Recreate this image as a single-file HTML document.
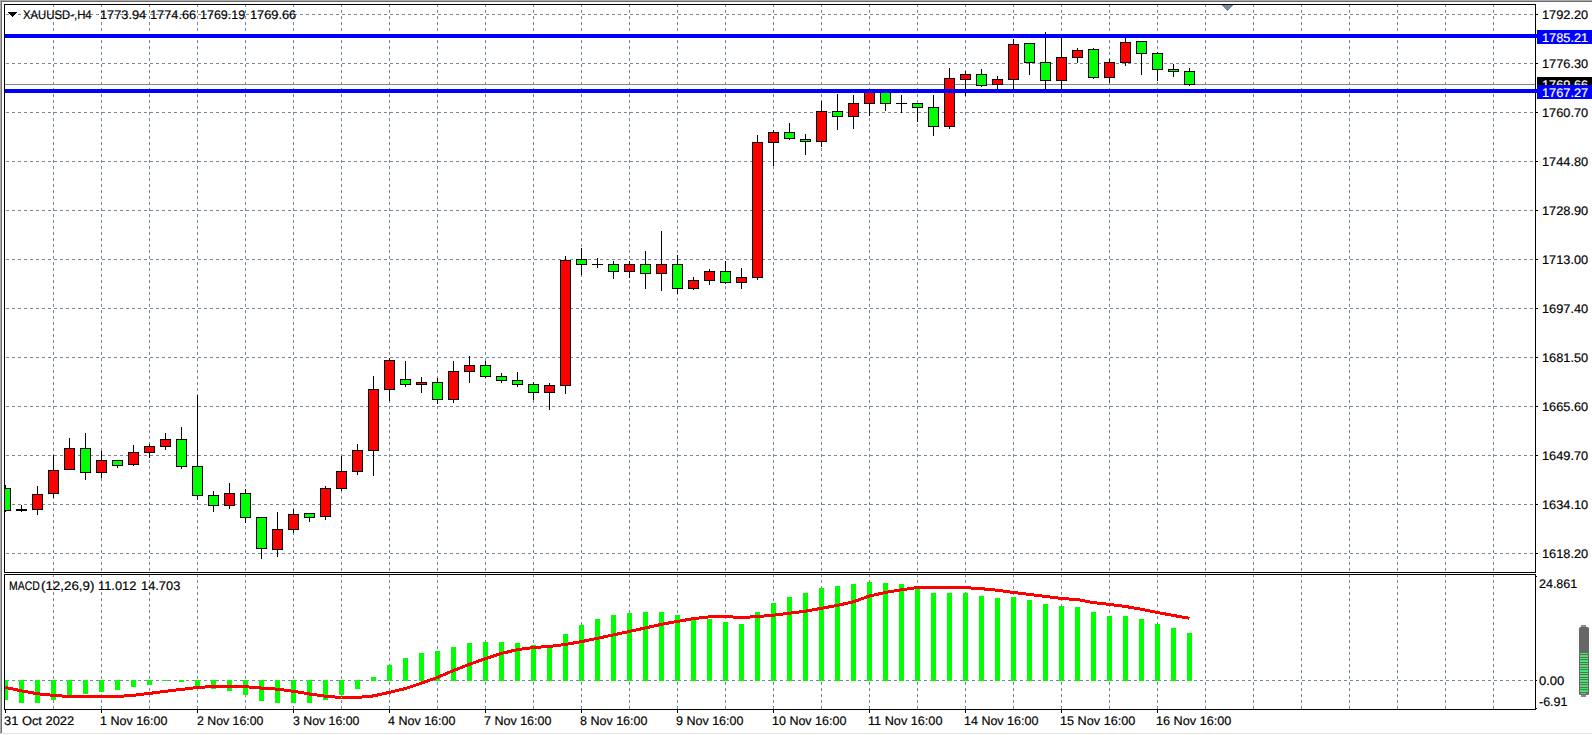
<!DOCTYPE html>
<html lang="en"><head><meta charset="utf-8"><title>XAUUSD-,H4</title>
<style>
html,body{margin:0;padding:0;background:#fff;overflow:hidden}
body{width:1592px;height:735px;font-family:"Liberation Sans",Arial,sans-serif}
svg{display:block}
</style></head><body>
<svg width="1592" height="735" viewBox="0 0 1592 735" shape-rendering="crispEdges">
<rect x="0" y="0" width="1592" height="735" fill="#fff"/>
<g stroke="#778899" stroke-width="1" stroke-dasharray="3 3" fill="none">
<line x1="6" y1="14.5" x2="1535" y2="14.5"/>
<line x1="6" y1="63.5" x2="1535" y2="63.5"/>
<line x1="6" y1="112.5" x2="1535" y2="112.5"/>
<line x1="6" y1="161.5" x2="1535" y2="161.5"/>
<line x1="6" y1="210.5" x2="1535" y2="210.5"/>
<line x1="6" y1="259.5" x2="1535" y2="259.5"/>
<line x1="6" y1="308.5" x2="1535" y2="308.5"/>
<line x1="6" y1="357.5" x2="1535" y2="357.5"/>
<line x1="6" y1="406.5" x2="1535" y2="406.5"/>
<line x1="6" y1="455.5" x2="1535" y2="455.5"/>
<line x1="6" y1="504.5" x2="1535" y2="504.5"/>
<line x1="6" y1="553.5" x2="1535" y2="553.5"/>
<line x1="6" y1="680.5" x2="1535" y2="680.5"/>
<line x1="53.5" y1="4" x2="53.5" y2="572"/>
<line x1="53.5" y1="574" x2="53.5" y2="709"/>
<line x1="101.5" y1="4" x2="101.5" y2="572"/>
<line x1="101.5" y1="574" x2="101.5" y2="709"/>
<line x1="149.5" y1="4" x2="149.5" y2="572"/>
<line x1="149.5" y1="574" x2="149.5" y2="709"/>
<line x1="197.5" y1="4" x2="197.5" y2="572"/>
<line x1="197.5" y1="574" x2="197.5" y2="709"/>
<line x1="245.5" y1="4" x2="245.5" y2="572"/>
<line x1="245.5" y1="574" x2="245.5" y2="709"/>
<line x1="293.5" y1="4" x2="293.5" y2="572"/>
<line x1="293.5" y1="574" x2="293.5" y2="709"/>
<line x1="341.5" y1="4" x2="341.5" y2="572"/>
<line x1="341.5" y1="574" x2="341.5" y2="709"/>
<line x1="389.5" y1="4" x2="389.5" y2="572"/>
<line x1="389.5" y1="574" x2="389.5" y2="709"/>
<line x1="437.5" y1="4" x2="437.5" y2="572"/>
<line x1="437.5" y1="574" x2="437.5" y2="709"/>
<line x1="485.5" y1="4" x2="485.5" y2="572"/>
<line x1="485.5" y1="574" x2="485.5" y2="709"/>
<line x1="533.5" y1="4" x2="533.5" y2="572"/>
<line x1="533.5" y1="574" x2="533.5" y2="709"/>
<line x1="581.5" y1="4" x2="581.5" y2="572"/>
<line x1="581.5" y1="574" x2="581.5" y2="709"/>
<line x1="629.5" y1="4" x2="629.5" y2="572"/>
<line x1="629.5" y1="574" x2="629.5" y2="709"/>
<line x1="677.5" y1="4" x2="677.5" y2="572"/>
<line x1="677.5" y1="574" x2="677.5" y2="709"/>
<line x1="725.5" y1="4" x2="725.5" y2="572"/>
<line x1="725.5" y1="574" x2="725.5" y2="709"/>
<line x1="773.5" y1="4" x2="773.5" y2="572"/>
<line x1="773.5" y1="574" x2="773.5" y2="709"/>
<line x1="821.5" y1="4" x2="821.5" y2="572"/>
<line x1="821.5" y1="574" x2="821.5" y2="709"/>
<line x1="869.5" y1="4" x2="869.5" y2="572"/>
<line x1="869.5" y1="574" x2="869.5" y2="709"/>
<line x1="917.5" y1="4" x2="917.5" y2="572"/>
<line x1="917.5" y1="574" x2="917.5" y2="709"/>
<line x1="965.5" y1="4" x2="965.5" y2="572"/>
<line x1="965.5" y1="574" x2="965.5" y2="709"/>
<line x1="1013.5" y1="4" x2="1013.5" y2="572"/>
<line x1="1013.5" y1="574" x2="1013.5" y2="709"/>
<line x1="1061.5" y1="4" x2="1061.5" y2="572"/>
<line x1="1061.5" y1="574" x2="1061.5" y2="709"/>
<line x1="1109.5" y1="4" x2="1109.5" y2="572"/>
<line x1="1109.5" y1="574" x2="1109.5" y2="709"/>
<line x1="1157.5" y1="4" x2="1157.5" y2="572"/>
<line x1="1157.5" y1="574" x2="1157.5" y2="709"/>
<line x1="1205.5" y1="4" x2="1205.5" y2="572"/>
<line x1="1205.5" y1="574" x2="1205.5" y2="709"/>
<line x1="1253.5" y1="4" x2="1253.5" y2="572"/>
<line x1="1253.5" y1="574" x2="1253.5" y2="709"/>
<line x1="1301.5" y1="4" x2="1301.5" y2="572"/>
<line x1="1301.5" y1="574" x2="1301.5" y2="709"/>
<line x1="1349.5" y1="4" x2="1349.5" y2="572"/>
<line x1="1349.5" y1="574" x2="1349.5" y2="709"/>
<line x1="1397.5" y1="4" x2="1397.5" y2="572"/>
<line x1="1397.5" y1="574" x2="1397.5" y2="709"/>
<line x1="1445.5" y1="4" x2="1445.5" y2="572"/>
<line x1="1445.5" y1="574" x2="1445.5" y2="709"/>
<line x1="1493.5" y1="4" x2="1493.5" y2="572"/>
<line x1="1493.5" y1="574" x2="1493.5" y2="709"/>
</g>
<rect x="5" y="84" width="1530" height="1" fill="#778899"/>
<rect x="5" y="485" width="1" height="27" fill="#000"/>
<rect x="0" y="488" width="11" height="23" fill="#000"/>
<rect x="1" y="489" width="9" height="21" fill="#00ff00"/>
<rect x="21" y="505" width="1" height="7" fill="#000"/>
<rect x="16" y="509" width="11" height="2" fill="#000"/>
<rect x="37" y="486" width="1" height="29" fill="#000"/>
<rect x="32" y="494" width="11" height="16" fill="#000"/>
<rect x="33" y="495" width="9" height="14" fill="#ff0000"/>
<rect x="53" y="455" width="1" height="43" fill="#000"/>
<rect x="48" y="470" width="11" height="24" fill="#000"/>
<rect x="49" y="471" width="9" height="22" fill="#ff0000"/>
<rect x="69" y="438" width="1" height="32" fill="#000"/>
<rect x="64" y="448" width="11" height="22" fill="#000"/>
<rect x="65" y="449" width="9" height="20" fill="#ff0000"/>
<rect x="85" y="433" width="1" height="47" fill="#000"/>
<rect x="80" y="448" width="11" height="25" fill="#000"/>
<rect x="81" y="449" width="9" height="23" fill="#00ff00"/>
<rect x="101" y="451" width="1" height="27" fill="#000"/>
<rect x="96" y="460" width="11" height="13" fill="#000"/>
<rect x="97" y="461" width="9" height="11" fill="#ff0000"/>
<rect x="117" y="460" width="1" height="8" fill="#000"/>
<rect x="112" y="460" width="11" height="6" fill="#000"/>
<rect x="113" y="461" width="9" height="4" fill="#00ff00"/>
<rect x="133" y="445" width="1" height="21" fill="#000"/>
<rect x="128" y="452" width="11" height="13" fill="#000"/>
<rect x="129" y="453" width="9" height="11" fill="#ff0000"/>
<rect x="149" y="444" width="1" height="14" fill="#000"/>
<rect x="144" y="446" width="11" height="7" fill="#000"/>
<rect x="145" y="447" width="9" height="5" fill="#ff0000"/>
<rect x="165" y="433" width="1" height="17" fill="#000"/>
<rect x="160" y="439" width="11" height="8" fill="#000"/>
<rect x="161" y="440" width="9" height="6" fill="#ff0000"/>
<rect x="181" y="427" width="1" height="42" fill="#000"/>
<rect x="176" y="439" width="11" height="28" fill="#000"/>
<rect x="177" y="440" width="9" height="26" fill="#00ff00"/>
<rect x="197" y="395" width="1" height="105" fill="#000"/>
<rect x="192" y="466" width="11" height="30" fill="#000"/>
<rect x="193" y="467" width="9" height="28" fill="#00ff00"/>
<rect x="213" y="491" width="1" height="21" fill="#000"/>
<rect x="208" y="495" width="11" height="11" fill="#000"/>
<rect x="209" y="496" width="9" height="9" fill="#00ff00"/>
<rect x="229" y="483" width="1" height="26" fill="#000"/>
<rect x="224" y="493" width="11" height="13" fill="#000"/>
<rect x="225" y="494" width="9" height="11" fill="#ff0000"/>
<rect x="245" y="489" width="1" height="34" fill="#000"/>
<rect x="240" y="493" width="11" height="25" fill="#000"/>
<rect x="241" y="494" width="9" height="23" fill="#00ff00"/>
<rect x="261" y="517" width="1" height="42" fill="#000"/>
<rect x="256" y="517" width="11" height="32" fill="#000"/>
<rect x="257" y="518" width="9" height="30" fill="#00ff00"/>
<rect x="277" y="512" width="1" height="45" fill="#000"/>
<rect x="272" y="529" width="11" height="21" fill="#000"/>
<rect x="273" y="530" width="9" height="19" fill="#ff0000"/>
<rect x="293" y="509" width="1" height="24" fill="#000"/>
<rect x="288" y="514" width="11" height="16" fill="#000"/>
<rect x="289" y="515" width="9" height="14" fill="#ff0000"/>
<rect x="309" y="513" width="1" height="9" fill="#000"/>
<rect x="304" y="513" width="11" height="5" fill="#000"/>
<rect x="305" y="514" width="9" height="3" fill="#00ff00"/>
<rect x="325" y="486" width="1" height="34" fill="#000"/>
<rect x="320" y="488" width="11" height="29" fill="#000"/>
<rect x="321" y="489" width="9" height="27" fill="#ff0000"/>
<rect x="341" y="456" width="1" height="35" fill="#000"/>
<rect x="336" y="471" width="11" height="18" fill="#000"/>
<rect x="337" y="472" width="9" height="16" fill="#ff0000"/>
<rect x="357" y="444" width="1" height="31" fill="#000"/>
<rect x="352" y="450" width="11" height="22" fill="#000"/>
<rect x="353" y="451" width="9" height="20" fill="#ff0000"/>
<rect x="373" y="376" width="1" height="100" fill="#000"/>
<rect x="368" y="389" width="11" height="62" fill="#000"/>
<rect x="369" y="390" width="9" height="60" fill="#ff0000"/>
<rect x="389" y="358" width="1" height="43" fill="#000"/>
<rect x="384" y="360" width="11" height="30" fill="#000"/>
<rect x="385" y="361" width="9" height="28" fill="#ff0000"/>
<rect x="405" y="361" width="1" height="26" fill="#000"/>
<rect x="400" y="379" width="11" height="6" fill="#000"/>
<rect x="401" y="380" width="9" height="4" fill="#00ff00"/>
<rect x="421" y="377" width="1" height="16" fill="#000"/>
<rect x="416" y="382" width="11" height="3" fill="#000"/>
<rect x="417" y="383" width="9" height="1" fill="#ff0000"/>
<rect x="437" y="378" width="1" height="26" fill="#000"/>
<rect x="432" y="382" width="11" height="18" fill="#000"/>
<rect x="433" y="383" width="9" height="16" fill="#00ff00"/>
<rect x="453" y="361" width="1" height="42" fill="#000"/>
<rect x="448" y="371" width="11" height="29" fill="#000"/>
<rect x="449" y="372" width="9" height="27" fill="#ff0000"/>
<rect x="469" y="356" width="1" height="27" fill="#000"/>
<rect x="464" y="365" width="11" height="7" fill="#000"/>
<rect x="465" y="366" width="9" height="5" fill="#ff0000"/>
<rect x="485" y="361" width="1" height="17" fill="#000"/>
<rect x="480" y="365" width="11" height="12" fill="#000"/>
<rect x="481" y="366" width="9" height="10" fill="#00ff00"/>
<rect x="501" y="373" width="1" height="10" fill="#000"/>
<rect x="496" y="376" width="11" height="5" fill="#000"/>
<rect x="497" y="377" width="9" height="3" fill="#00ff00"/>
<rect x="517" y="372" width="1" height="15" fill="#000"/>
<rect x="512" y="380" width="11" height="5" fill="#000"/>
<rect x="513" y="381" width="9" height="3" fill="#00ff00"/>
<rect x="533" y="382" width="1" height="18" fill="#000"/>
<rect x="528" y="384" width="11" height="9" fill="#000"/>
<rect x="529" y="385" width="9" height="7" fill="#00ff00"/>
<rect x="549" y="383" width="1" height="27" fill="#000"/>
<rect x="544" y="385" width="11" height="8" fill="#000"/>
<rect x="545" y="386" width="9" height="6" fill="#ff0000"/>
<rect x="565" y="256" width="1" height="138" fill="#000"/>
<rect x="560" y="260" width="11" height="126" fill="#000"/>
<rect x="561" y="261" width="9" height="124" fill="#ff0000"/>
<rect x="581" y="248" width="1" height="27" fill="#000"/>
<rect x="576" y="259" width="11" height="6" fill="#000"/>
<rect x="577" y="260" width="9" height="4" fill="#00ff00"/>
<rect x="597" y="258" width="1" height="10" fill="#000"/>
<rect x="592" y="264" width="11" height="1" fill="#000"/>
<rect x="613" y="261" width="1" height="18" fill="#000"/>
<rect x="608" y="264" width="11" height="8" fill="#000"/>
<rect x="609" y="265" width="9" height="6" fill="#00ff00"/>
<rect x="629" y="261" width="1" height="17" fill="#000"/>
<rect x="624" y="264" width="11" height="8" fill="#000"/>
<rect x="625" y="265" width="9" height="6" fill="#ff0000"/>
<rect x="645" y="251" width="1" height="38" fill="#000"/>
<rect x="640" y="264" width="11" height="10" fill="#000"/>
<rect x="641" y="265" width="9" height="8" fill="#00ff00"/>
<rect x="661" y="231" width="1" height="60" fill="#000"/>
<rect x="656" y="264" width="11" height="10" fill="#000"/>
<rect x="657" y="265" width="9" height="8" fill="#ff0000"/>
<rect x="677" y="255" width="1" height="39" fill="#000"/>
<rect x="672" y="264" width="11" height="25" fill="#000"/>
<rect x="673" y="265" width="9" height="23" fill="#00ff00"/>
<rect x="693" y="277" width="1" height="13" fill="#000"/>
<rect x="688" y="280" width="11" height="9" fill="#000"/>
<rect x="689" y="281" width="9" height="7" fill="#ff0000"/>
<rect x="709" y="269" width="1" height="16" fill="#000"/>
<rect x="704" y="271" width="11" height="10" fill="#000"/>
<rect x="705" y="272" width="9" height="8" fill="#ff0000"/>
<rect x="725" y="261" width="1" height="23" fill="#000"/>
<rect x="720" y="271" width="11" height="12" fill="#000"/>
<rect x="721" y="272" width="9" height="10" fill="#00ff00"/>
<rect x="741" y="268" width="1" height="21" fill="#000"/>
<rect x="736" y="277" width="11" height="6" fill="#000"/>
<rect x="737" y="278" width="9" height="4" fill="#ff0000"/>
<rect x="757" y="135" width="1" height="145" fill="#000"/>
<rect x="752" y="142" width="11" height="136" fill="#000"/>
<rect x="753" y="143" width="9" height="134" fill="#ff0000"/>
<rect x="773" y="130" width="1" height="36" fill="#000"/>
<rect x="768" y="132" width="11" height="11" fill="#000"/>
<rect x="769" y="133" width="9" height="9" fill="#ff0000"/>
<rect x="789" y="123" width="1" height="17" fill="#000"/>
<rect x="784" y="132" width="11" height="7" fill="#000"/>
<rect x="785" y="133" width="9" height="5" fill="#00ff00"/>
<rect x="805" y="134" width="1" height="21" fill="#000"/>
<rect x="800" y="139" width="11" height="3" fill="#000"/>
<rect x="801" y="140" width="9" height="1" fill="#00ff00"/>
<rect x="821" y="101" width="1" height="46" fill="#000"/>
<rect x="816" y="111" width="11" height="31" fill="#000"/>
<rect x="817" y="112" width="9" height="29" fill="#ff0000"/>
<rect x="837" y="94" width="1" height="36" fill="#000"/>
<rect x="832" y="111" width="11" height="6" fill="#000"/>
<rect x="833" y="112" width="9" height="4" fill="#00ff00"/>
<rect x="853" y="95" width="1" height="34" fill="#000"/>
<rect x="848" y="103" width="11" height="14" fill="#000"/>
<rect x="849" y="104" width="9" height="12" fill="#ff0000"/>
<rect x="869" y="90" width="1" height="26" fill="#000"/>
<rect x="864" y="91" width="11" height="13" fill="#000"/>
<rect x="865" y="92" width="9" height="11" fill="#ff0000"/>
<rect x="885" y="90" width="1" height="21" fill="#000"/>
<rect x="880" y="91" width="11" height="13" fill="#000"/>
<rect x="881" y="92" width="9" height="11" fill="#00ff00"/>
<rect x="901" y="95" width="1" height="18" fill="#000"/>
<rect x="896" y="103" width="11" height="1" fill="#000"/>
<rect x="917" y="103" width="1" height="19" fill="#000"/>
<rect x="912" y="103" width="11" height="5" fill="#000"/>
<rect x="913" y="104" width="9" height="3" fill="#00ff00"/>
<rect x="933" y="95" width="1" height="41" fill="#000"/>
<rect x="928" y="107" width="11" height="20" fill="#000"/>
<rect x="929" y="108" width="9" height="18" fill="#00ff00"/>
<rect x="949" y="68" width="1" height="61" fill="#000"/>
<rect x="944" y="78" width="11" height="49" fill="#000"/>
<rect x="945" y="79" width="9" height="47" fill="#ff0000"/>
<rect x="965" y="71" width="1" height="25" fill="#000"/>
<rect x="960" y="74" width="11" height="6" fill="#000"/>
<rect x="961" y="75" width="9" height="4" fill="#ff0000"/>
<rect x="981" y="69" width="1" height="18" fill="#000"/>
<rect x="976" y="74" width="11" height="12" fill="#000"/>
<rect x="977" y="75" width="9" height="10" fill="#00ff00"/>
<rect x="997" y="76" width="1" height="15" fill="#000"/>
<rect x="992" y="79" width="11" height="6" fill="#000"/>
<rect x="993" y="80" width="9" height="4" fill="#ff0000"/>
<rect x="1013" y="39" width="1" height="52" fill="#000"/>
<rect x="1008" y="44" width="11" height="36" fill="#000"/>
<rect x="1009" y="45" width="9" height="34" fill="#ff0000"/>
<rect x="1029" y="43" width="1" height="32" fill="#000"/>
<rect x="1024" y="43" width="11" height="20" fill="#000"/>
<rect x="1025" y="44" width="9" height="18" fill="#00ff00"/>
<rect x="1045" y="32" width="1" height="59" fill="#000"/>
<rect x="1040" y="62" width="11" height="19" fill="#000"/>
<rect x="1041" y="63" width="9" height="17" fill="#00ff00"/>
<rect x="1061" y="36" width="1" height="55" fill="#000"/>
<rect x="1056" y="57" width="11" height="24" fill="#000"/>
<rect x="1057" y="58" width="9" height="22" fill="#ff0000"/>
<rect x="1077" y="48" width="1" height="15" fill="#000"/>
<rect x="1072" y="50" width="11" height="8" fill="#000"/>
<rect x="1073" y="51" width="9" height="6" fill="#ff0000"/>
<rect x="1093" y="48" width="1" height="31" fill="#000"/>
<rect x="1088" y="49" width="11" height="29" fill="#000"/>
<rect x="1089" y="50" width="9" height="27" fill="#00ff00"/>
<rect x="1109" y="59" width="1" height="24" fill="#000"/>
<rect x="1104" y="62" width="11" height="16" fill="#000"/>
<rect x="1105" y="63" width="9" height="14" fill="#ff0000"/>
<rect x="1125" y="36" width="1" height="30" fill="#000"/>
<rect x="1120" y="42" width="11" height="21" fill="#000"/>
<rect x="1121" y="43" width="9" height="19" fill="#ff0000"/>
<rect x="1141" y="41" width="1" height="34" fill="#000"/>
<rect x="1136" y="41" width="11" height="13" fill="#000"/>
<rect x="1137" y="42" width="9" height="11" fill="#00ff00"/>
<rect x="1157" y="52" width="1" height="29" fill="#000"/>
<rect x="1152" y="53" width="11" height="17" fill="#000"/>
<rect x="1153" y="54" width="9" height="15" fill="#00ff00"/>
<rect x="1173" y="64" width="1" height="13" fill="#000"/>
<rect x="1168" y="69" width="11" height="3" fill="#000"/>
<rect x="1169" y="70" width="9" height="1" fill="#00ff00"/>
<rect x="1189" y="68" width="1" height="18" fill="#000"/>
<rect x="1184" y="71" width="11" height="14" fill="#000"/>
<rect x="1185" y="72" width="9" height="12" fill="#00ff00"/>
<rect x="1222" y="5" width="11" height="1" fill="#778899"/>
<rect x="1223" y="6" width="9" height="1" fill="#778899"/>
<rect x="1224" y="7" width="7" height="1" fill="#778899"/>
<rect x="1225" y="8" width="5" height="1" fill="#778899"/>
<rect x="1226" y="9" width="3" height="1" fill="#778899"/>
<rect x="1227" y="10" width="1" height="1" fill="#778899"/>
<rect x="3" y="680" width="5" height="20" fill="#00ff00"/>
<rect x="19" y="680" width="5" height="23" fill="#00ff00"/>
<rect x="35" y="680" width="5" height="23" fill="#00ff00"/>
<rect x="51" y="680" width="5" height="20" fill="#00ff00"/>
<rect x="67" y="680" width="5" height="15" fill="#00ff00"/>
<rect x="83" y="680" width="5" height="14" fill="#00ff00"/>
<rect x="99" y="680" width="5" height="12" fill="#00ff00"/>
<rect x="115" y="680" width="5" height="10" fill="#00ff00"/>
<rect x="131" y="680" width="5" height="7" fill="#00ff00"/>
<rect x="147" y="680" width="5" height="5" fill="#00ff00"/>
<rect x="163" y="680" width="5" height="1" fill="#00ff00"/>
<rect x="179" y="680" width="5" height="2" fill="#00ff00"/>
<rect x="195" y="680" width="5" height="6" fill="#00ff00"/>
<rect x="211" y="680" width="5" height="9" fill="#00ff00"/>
<rect x="227" y="680" width="5" height="11" fill="#00ff00"/>
<rect x="243" y="680" width="5" height="15" fill="#00ff00"/>
<rect x="259" y="680" width="5" height="21" fill="#00ff00"/>
<rect x="275" y="680" width="5" height="23" fill="#00ff00"/>
<rect x="291" y="680" width="5" height="23" fill="#00ff00"/>
<rect x="307" y="680" width="5" height="23" fill="#00ff00"/>
<rect x="323" y="680" width="5" height="20" fill="#00ff00"/>
<rect x="339" y="680" width="5" height="15" fill="#00ff00"/>
<rect x="355" y="680" width="5" height="9" fill="#00ff00"/>
<rect x="371" y="677" width="5" height="4" fill="#00ff00"/>
<rect x="387" y="665" width="5" height="16" fill="#00ff00"/>
<rect x="403" y="658" width="5" height="23" fill="#00ff00"/>
<rect x="419" y="653" width="5" height="28" fill="#00ff00"/>
<rect x="435" y="651" width="5" height="30" fill="#00ff00"/>
<rect x="451" y="647" width="5" height="34" fill="#00ff00"/>
<rect x="467" y="643" width="5" height="38" fill="#00ff00"/>
<rect x="483" y="642" width="5" height="39" fill="#00ff00"/>
<rect x="499" y="642" width="5" height="39" fill="#00ff00"/>
<rect x="515" y="643" width="5" height="38" fill="#00ff00"/>
<rect x="531" y="645" width="5" height="36" fill="#00ff00"/>
<rect x="547" y="646" width="5" height="35" fill="#00ff00"/>
<rect x="563" y="634" width="5" height="47" fill="#00ff00"/>
<rect x="579" y="625" width="5" height="56" fill="#00ff00"/>
<rect x="595" y="619" width="5" height="62" fill="#00ff00"/>
<rect x="611" y="615" width="5" height="66" fill="#00ff00"/>
<rect x="627" y="613" width="5" height="68" fill="#00ff00"/>
<rect x="643" y="612" width="5" height="69" fill="#00ff00"/>
<rect x="659" y="612" width="5" height="69" fill="#00ff00"/>
<rect x="675" y="615" width="5" height="66" fill="#00ff00"/>
<rect x="691" y="618" width="5" height="63" fill="#00ff00"/>
<rect x="707" y="619" width="5" height="62" fill="#00ff00"/>
<rect x="723" y="622" width="5" height="59" fill="#00ff00"/>
<rect x="739" y="624" width="5" height="57" fill="#00ff00"/>
<rect x="755" y="612" width="5" height="69" fill="#00ff00"/>
<rect x="771" y="603" width="5" height="78" fill="#00ff00"/>
<rect x="787" y="597" width="5" height="84" fill="#00ff00"/>
<rect x="803" y="593" width="5" height="88" fill="#00ff00"/>
<rect x="819" y="588" width="5" height="93" fill="#00ff00"/>
<rect x="835" y="586" width="5" height="95" fill="#00ff00"/>
<rect x="851" y="584" width="5" height="97" fill="#00ff00"/>
<rect x="867" y="582" width="5" height="99" fill="#00ff00"/>
<rect x="883" y="583" width="5" height="98" fill="#00ff00"/>
<rect x="899" y="584" width="5" height="97" fill="#00ff00"/>
<rect x="915" y="588" width="5" height="93" fill="#00ff00"/>
<rect x="931" y="593" width="5" height="88" fill="#00ff00"/>
<rect x="947" y="593" width="5" height="88" fill="#00ff00"/>
<rect x="963" y="593" width="5" height="88" fill="#00ff00"/>
<rect x="979" y="596" width="5" height="85" fill="#00ff00"/>
<rect x="995" y="598" width="5" height="83" fill="#00ff00"/>
<rect x="1011" y="597" width="5" height="84" fill="#00ff00"/>
<rect x="1027" y="600" width="5" height="81" fill="#00ff00"/>
<rect x="1043" y="604" width="5" height="77" fill="#00ff00"/>
<rect x="1059" y="606" width="5" height="75" fill="#00ff00"/>
<rect x="1075" y="607" width="5" height="74" fill="#00ff00"/>
<rect x="1091" y="612" width="5" height="69" fill="#00ff00"/>
<rect x="1107" y="616" width="5" height="65" fill="#00ff00"/>
<rect x="1123" y="616" width="5" height="65" fill="#00ff00"/>
<rect x="1139" y="619" width="5" height="62" fill="#00ff00"/>
<rect x="1155" y="624" width="5" height="57" fill="#00ff00"/>
<rect x="1171" y="628" width="5" height="53" fill="#00ff00"/>
<rect x="1187" y="633" width="5" height="48" fill="#00ff00"/>
<polyline points="5.5,687.4 21.5,690.9 37.5,693.7 53.5,695.4 69.5,696.5 85.5,696.5 101.5,696.5 117.5,696.5 133.5,695.3 149.5,693.4 165.5,691.3 181.5,689.4 197.5,687.5 213.5,686.5 229.5,686.5 245.5,686.7 261.5,688.1 277.5,689.2 293.5,691.3 309.5,694.0 325.5,696.2 341.5,697.5 357.5,697.5 373.5,695.9 389.5,692.3 405.5,688.5 421.5,683.1 437.5,677.4 453.5,670.5 469.5,664.3 485.5,658.6 501.5,653.4 517.5,649.6 533.5,647.5 549.5,646.5 565.5,644.4 581.5,641.6 597.5,638.3 613.5,634.9 629.5,631.4 645.5,627.9 661.5,624.3 677.5,621.4 693.5,618.6 709.5,616.8 725.5,616.5 741.5,617.6 757.5,616.5 773.5,615.2 789.5,613.2 805.5,611.2 821.5,608.3 837.5,605.4 853.5,601.8 869.5,596.0 885.5,592.5 901.5,589.7 917.5,587.6 933.5,587.6 949.5,587.6 965.5,587.6 981.5,588.7 997.5,590.3 1013.5,592.5 1029.5,594.4 1045.5,596.4 1061.5,598.5 1077.5,599.6 1093.5,602.6 1109.5,604.4 1125.5,606.5 1141.5,609.3 1157.5,612.5 1173.5,615.5 1189.5,618.3" fill="none" stroke="#ff0000" stroke-width="3" stroke-linejoin="round"/>
<rect x="0" y="2" width="4" height="731" fill="#fff"/>
<rect x="0" y="0" width="1592" height="1" fill="#ababab"/>
<rect x="1" y="1" width="1591" height="1" fill="#6d6d6d"/>
<rect x="0" y="0" width="1" height="734" fill="#ababab"/>
<rect x="1" y="1" width="1" height="732" fill="#6d6d6d"/>
<rect x="2" y="733" width="1590" height="1" fill="#e3e3e3"/>
<rect x="4" y="4" width="1532" height="1" fill="#000"/>
<rect x="4" y="4" width="1" height="569" fill="#000"/>
<rect x="4" y="574" width="1" height="136" fill="#000"/>
<rect x="1535" y="4" width="1" height="569" fill="#000"/>
<rect x="1535" y="574" width="1" height="136" fill="#000"/>
<rect x="4" y="572" width="1532" height="1" fill="#000"/>
<rect x="5" y="573" width="1530" height="1" fill="#fff"/>
<rect x="4" y="574" width="1532" height="1" fill="#000"/>
<rect x="4" y="709" width="1532" height="1" fill="#000"/>
<rect x="1536" y="14" width="2" height="1" fill="#000"/>
<rect x="1536" y="63" width="2" height="1" fill="#000"/>
<rect x="1536" y="112" width="2" height="1" fill="#000"/>
<rect x="1536" y="161" width="2" height="1" fill="#000"/>
<rect x="1536" y="210" width="2" height="1" fill="#000"/>
<rect x="1536" y="259" width="2" height="1" fill="#000"/>
<rect x="1536" y="308" width="2" height="1" fill="#000"/>
<rect x="1536" y="357" width="2" height="1" fill="#000"/>
<rect x="1536" y="406" width="2" height="1" fill="#000"/>
<rect x="1536" y="455" width="2" height="1" fill="#000"/>
<rect x="1536" y="504" width="2" height="1" fill="#000"/>
<rect x="1536" y="553" width="2" height="1" fill="#000"/>
<rect x="1536" y="576" width="1" height="1" fill="#000"/>
<rect x="1536" y="680" width="1" height="1" fill="#000"/>
<rect x="1536" y="708" width="1" height="1" fill="#000"/>
<rect x="5" y="710" width="1" height="3" fill="#000"/>
<rect x="101" y="710" width="1" height="3" fill="#000"/>
<rect x="197" y="710" width="1" height="3" fill="#000"/>
<rect x="293" y="710" width="1" height="3" fill="#000"/>
<rect x="389" y="710" width="1" height="3" fill="#000"/>
<rect x="485" y="710" width="1" height="3" fill="#000"/>
<rect x="581" y="710" width="1" height="3" fill="#000"/>
<rect x="677" y="710" width="1" height="3" fill="#000"/>
<rect x="773" y="710" width="1" height="3" fill="#000"/>
<rect x="869" y="710" width="1" height="3" fill="#000"/>
<rect x="965" y="710" width="1" height="3" fill="#000"/>
<rect x="1061" y="710" width="1" height="3" fill="#000"/>
<rect x="1157" y="710" width="1" height="3" fill="#000"/>
<rect x="5" y="34" width="1532" height="4" fill="#0000ff"/>
<rect x="5" y="89" width="1532" height="4" fill="#0000ff"/>
<rect x="8" y="12" width="9" height="1" fill="#000"/>
<rect x="9" y="13" width="7" height="1" fill="#000"/>
<rect x="10" y="14" width="5" height="1" fill="#000"/>
<rect x="11" y="15" width="3" height="1" fill="#000"/>
<rect x="12" y="16" width="1" height="1" fill="#000"/>
<rect x="1537" y="77" width="55" height="14" fill="#000"/>
<rect x="1537" y="30" width="55" height="14" fill="#0000ff"/>
<g font-family="'Liberation Sans', Arial, sans-serif" font-size="12.5px" shape-rendering="auto" text-rendering="geometricPrecision" stroke="#000" stroke-width="0.18">
<text id="p_bid" x="1542.00" y="89" fill="#fff" stroke="#fff" textLength="46.21" lengthAdjust="spacingAndGlyphs">1769.66</text>
</g>
<rect x="1537" y="85" width="55" height="14" fill="#0000ff"/>
<g font-family="'Liberation Sans', Arial, sans-serif" font-size="12.5px" shape-rendering="auto" text-rendering="geometricPrecision" stroke="#000" stroke-width="0.18">
<text id="p_b1" x="1542.00" y="42" fill="#fff" stroke="#fff" textLength="46.24" lengthAdjust="spacingAndGlyphs">1785.21</text>
<text id="p_b2" x="1542.00" y="97" fill="#fff" stroke="#fff" textLength="46.21" lengthAdjust="spacingAndGlyphs">1767.27</text>
<text id="t0" x="23.00" y="19" fill="#000" textLength="68.67" lengthAdjust="spacingAndGlyphs">XAUUSD-,H4</text>
<text id="t1" x="100.00" y="19" fill="#000" textLength="46.21" lengthAdjust="spacingAndGlyphs">1773.94</text>
<text id="t2" x="150.00" y="19" fill="#000" textLength="46.21" lengthAdjust="spacingAndGlyphs">1774.66</text>
<text id="t3" x="200.00" y="19" fill="#000" textLength="45.19" lengthAdjust="spacingAndGlyphs">1769.19</text>
<text id="t4" x="250.00" y="19" fill="#000" textLength="46.21" lengthAdjust="spacingAndGlyphs">1769.66</text>
<text id="m0a" x="9.00" y="590" fill="#000" textLength="30.78" lengthAdjust="spacingAndGlyphs">MACD</text>
<text id="m0b" x="41.00" y="590" fill="#000" textLength="53.35" lengthAdjust="spacingAndGlyphs">(12,26,9)</text>
<text id="m1" x="98.00" y="590" fill="#000" textLength="38.35" lengthAdjust="spacingAndGlyphs">11.012</text>
<text id="m2" x="141.00" y="590" fill="#000" textLength="39.27" lengthAdjust="spacingAndGlyphs">14.703</text>
<text id="pl0" x="1542.00" y="19" fill="#000" textLength="46.21" lengthAdjust="spacingAndGlyphs">1792.20</text>
<text id="pl1" x="1542.00" y="68" fill="#000" textLength="46.21" lengthAdjust="spacingAndGlyphs">1776.30</text>
<text id="pl2" x="1542.00" y="117" fill="#000" textLength="46.21" lengthAdjust="spacingAndGlyphs">1760.70</text>
<text id="pl3" x="1542.00" y="166" fill="#000" textLength="46.21" lengthAdjust="spacingAndGlyphs">1744.80</text>
<text id="pl4" x="1542.00" y="215" fill="#000" textLength="46.21" lengthAdjust="spacingAndGlyphs">1728.90</text>
<text id="pl5" x="1542.00" y="264" fill="#000" textLength="46.21" lengthAdjust="spacingAndGlyphs">1713.00</text>
<text id="pl6" x="1542.00" y="313" fill="#000" textLength="46.21" lengthAdjust="spacingAndGlyphs">1697.40</text>
<text id="pl7" x="1542.00" y="362" fill="#000" textLength="46.21" lengthAdjust="spacingAndGlyphs">1681.50</text>
<text id="pl8" x="1542.00" y="411" fill="#000" textLength="46.21" lengthAdjust="spacingAndGlyphs">1665.60</text>
<text id="pl9" x="1542.00" y="460" fill="#000" textLength="46.21" lengthAdjust="spacingAndGlyphs">1649.70</text>
<text id="pl10" x="1542.00" y="509" fill="#000" textLength="46.21" lengthAdjust="spacingAndGlyphs">1634.10</text>
<text id="pl11" x="1542.00" y="558" fill="#000" textLength="46.21" lengthAdjust="spacingAndGlyphs">1618.20</text>
<text id="s0" x="1539.00" y="588" fill="#000" textLength="38.23" lengthAdjust="spacingAndGlyphs">24.861</text>
<text id="s1" x="1539.00" y="685" fill="#000" textLength="25.36" lengthAdjust="spacingAndGlyphs">0.00</text>
<text id="s2" x="1539.00" y="706" fill="#000" textLength="28.50" lengthAdjust="spacingAndGlyphs">-6.91</text>
<text id="tl0" x="4.00" y="725" fill="#000" textLength="70.16" lengthAdjust="spacingAndGlyphs">31 Oct 2022</text>
<text id="tl1" x="100.00" y="725" fill="#000" textLength="67.42" lengthAdjust="spacingAndGlyphs">1 Nov 16:00</text>
<text id="tl2" x="197.00" y="725" fill="#000" textLength="66.42" lengthAdjust="spacingAndGlyphs">2 Nov 16:00</text>
<text id="tl3" x="293.00" y="725" fill="#000" textLength="66.42" lengthAdjust="spacingAndGlyphs">3 Nov 16:00</text>
<text id="tl4" x="388.00" y="725" fill="#000" textLength="67.42" lengthAdjust="spacingAndGlyphs">4 Nov 16:00</text>
<text id="tl5" x="484.00" y="725" fill="#000" textLength="67.44" lengthAdjust="spacingAndGlyphs">7 Nov 16:00</text>
<text id="tl6" x="580.00" y="725" fill="#000" textLength="67.42" lengthAdjust="spacingAndGlyphs">8 Nov 16:00</text>
<text id="tl7" x="676.00" y="725" fill="#000" textLength="67.42" lengthAdjust="spacingAndGlyphs">9 Nov 16:00</text>
<text id="tl8" x="772.00" y="725" fill="#000" textLength="74.36" lengthAdjust="spacingAndGlyphs">10 Nov 16:00</text>
<text id="tl9" x="868.00" y="725" fill="#000" textLength="74.46" lengthAdjust="spacingAndGlyphs">11 Nov 16:00</text>
<text id="tl10" x="964.00" y="725" fill="#000" textLength="74.36" lengthAdjust="spacingAndGlyphs">14 Nov 16:00</text>
<text id="tl11" x="1060.00" y="725" fill="#000" textLength="75.38" lengthAdjust="spacingAndGlyphs">15 Nov 16:00</text>
<text id="tl12" x="1156.00" y="725" fill="#000" textLength="75.38" lengthAdjust="spacingAndGlyphs">16 Nov 16:00</text>
</g>
<g shape-rendering="auto">
<rect x="1576" y="623" width="16" height="77" rx="4" fill="#fbfbfb"/>
<rect x="1581" y="625" width="5" height="2" fill="#8a8a8a"/>
<rect x="1581" y="695" width="5" height="2" fill="#8a8a8a"/>
<rect x="1579" y="627" width="10" height="68" rx="1.6" fill="#666666"/>
</g>
<rect x="1580" y="653" width="8" height="1" fill="#3fe96c"/>
<rect x="1580" y="655" width="8" height="2" fill="#3fe96c"/>
<rect x="1580" y="658" width="8" height="1" fill="#3fe96c"/>
<rect x="1580" y="660" width="8" height="2" fill="#3fe96c"/>
<rect x="1580" y="663" width="8" height="1" fill="#3fe96c"/>
<rect x="1580" y="665" width="8" height="2" fill="#3fe96c"/>
<rect x="1580" y="668" width="8" height="1" fill="#3fe96c"/>
<rect x="1580" y="670" width="8" height="2" fill="#3fe96c"/>
<rect x="1580" y="673" width="8" height="1" fill="#3fe96c"/>
<rect x="1580" y="675" width="8" height="2" fill="#3fe96c"/>
<rect x="1580" y="678" width="8" height="1" fill="#3fe96c"/>
<rect x="1580" y="680" width="8" height="2" fill="#3fe96c"/>
<rect x="1580" y="683" width="8" height="1" fill="#3fe96c"/>
<rect x="1580" y="685" width="8" height="2" fill="#3fe96c"/>
<rect x="1580" y="688" width="8" height="1" fill="#3fe96c"/>
<rect x="1580" y="690" width="8" height="2" fill="#3fe96c"/>
<rect x="1581" y="693" width="5" height="1" fill="#3fe96c"/>
</svg>
</body></html>
